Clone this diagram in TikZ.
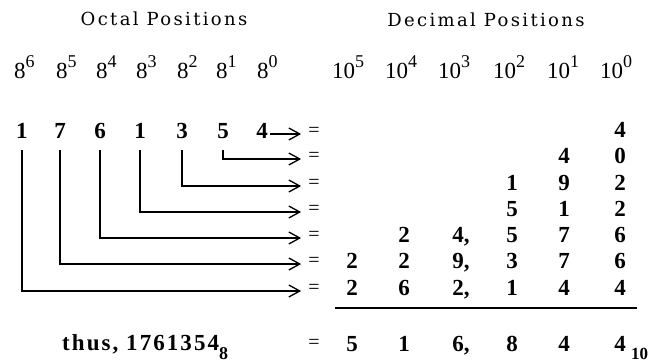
\documentclass[tikz,border=0pt]{standalone}
\usepackage{fontspec}
\setmainfont{Liberation Serif}
\newfontfamily\headfont[LetterSpace=13]{DejaVu Serif}
\newfontfamily\widefont[LetterSpace=9]{Liberation Serif}
\usepackage{tikz}
\usetikzlibrary{arrows.meta}

\newcommand{\pwr}[2]{#1\raisebox{11pt}{\fontsize{18}{18}\selectfont #2}}

\begin{document}
\begin{tikzpicture}[
    x=1pt, y=-1pt,
    every node/.style={inner sep=0pt, font=\fontsize{23}{23}\selectfont},
    heading/.style={font=\headfont\fontsize{18}{18}\selectfont, anchor=base},
    power/.style={anchor=base west},
    digit/.style={font=\fontsize{23}{23}\selectfont\bfseries, anchor=base},
    eqsign/.style={font=\fontsize{20}{20}\selectfont, text height=0.58em, text depth=0pt, inner sep=2pt},
    arrow/.style={-{Straight Barb[length=11pt,width=12pt]}, line width=1.3pt, shorten >=5pt},
    drop/.style={arrow, shorten <=12pt},
    sumline/.style={line width=1.3pt}
]
\useasboundingbox (0,0) rectangle (670,364);

% HEADINGS
\node[heading] (octhead) at (164, 25) {Octal Positions};
\node[heading] (dechead) at (486, 26) {Decimal Positions};

% POWERS
\node[power] (p6) at (14, 78)  {\pwr{8}{6}};
\node[power] (p5) at (56, 78)  {\pwr{8}{5}};
\node[power] (p4) at (96, 78)  {\pwr{8}{4}};
\node[power] (p3) at (136, 78) {\pwr{8}{3}};
\node[power] (p2) at (177, 78) {\pwr{8}{2}};
\node[power] (p1) at (216, 78) {\pwr{8}{1}};
\node[power] (p0) at (257, 78) {\pwr{8}{0}};

\node[power] (q5) at (332, 78) {\pwr{10}{5}};
\node[power] (q4) at (385, 78) {\pwr{10}{4}};
\node[power] (q3) at (438, 78) {\pwr{10}{3}};
\node[power] (q2) at (493, 78) {\pwr{10}{2}};
\node[power] (q1) at (547, 78) {\pwr{10}{1}};
\node[power] (q0) at (600, 78) {\pwr{10}{0}};

% OCTAL DIGITS
\node[digit] (o6) at (22, 138)  {1};
\node[digit] (o5) at (60, 138)  {7};
\node[digit] (o4) at (100, 138) {6};
\node[digit] (o3) at (140, 138) {1};
\node[digit] (o2) at (182, 138) {3};
\node[digit] (o1) at (223, 138) {5};
\node[digit] (o0) at (262, 138) {4};

% EQUALS SIGNS
\node[eqsign] (e0) at (314, 134) {=};
\node[eqsign] (e1) at (314, 159) {=};
\node[eqsign] (e2) at (314, 186) {=};
\node[eqsign] (e3) at (314, 212) {=};
\node[eqsign] (e4) at (314, 238) {=};
\node[eqsign] (e5) at (314, 264) {=};
\node[eqsign] (e6) at (314, 291) {=};
\node[eqsign] (eres) at (314, 346) {=};

% DECIMAL VALUES
\node[digit] (v0c0) at (620, 137) {4};

\node[digit] (v1c1) at (564, 163) {4};
\node[digit] (v1c0) at (620, 163) {0};

\node[digit] (v2c2) at (512, 190) {1};
\node[digit] (v2c1) at (564, 190) {9};
\node[digit] (v2c0) at (620, 190) {2};

\node[digit] (v3c2) at (512, 216) {5};
\node[digit] (v3c1) at (564, 216) {1};
\node[digit] (v3c0) at (620, 216) {2};

\node[digit] (v4c4) at (404, 242) {2};
\node[digit] (v4c3) at (458, 242) {4\rlap{,}};
\node[digit] (v4c2) at (512, 242) {5};
\node[digit] (v4c1) at (564, 242) {7};
\node[digit] (v4c0) at (620, 242) {6};

\node[digit] (v5c5) at (352, 268) {2};
\node[digit] (v5c4) at (404, 268) {2};
\node[digit] (v5c3) at (458, 268) {9\rlap{,}};
\node[digit] (v5c2) at (512, 268) {3};
\node[digit] (v5c1) at (564, 268) {7};
\node[digit] (v5c0) at (620, 268) {6};

\node[digit] (v6c5) at (352, 295) {2};
\node[digit] (v6c4) at (404, 295) {6};
\node[digit] (v6c3) at (458, 295) {2\rlap{,}};
\node[digit] (v6c2) at (512, 295) {1};
\node[digit] (v6c1) at (564, 295) {4};
\node[digit] (v6c0) at (620, 295) {4};

% RESULT
\coordinate (rule-l) at (335, 308);
\coordinate (rule-r) at (637, 308);
\draw[sumline] (rule-l) -- (rule-r);

\node[digit, anchor=base west, font=\widefont\fontsize{23}{23}\selectfont\bfseries] (thus) at (62, 350) {thus, 1761354\raisebox{-9pt}{\fontsize{18}{18}\selectfont 8}};
\node[digit] (s5) at (352, 351) {5};
\node[digit] (s4) at (404, 351) {1};
\node[digit] (s3) at (458, 351) {6\rlap{,}};
\node[digit] (s2) at (512, 351) {8};
\node[digit] (s4b) at (564, 351) {4};
\node[digit] (s0) at (620, 351) {4};
\node[digit, anchor=base west, font=\fontsize{17}{17}\selectfont\bfseries] (base10) at (631, 359) {10};

% ARROWS
\draw[arrow, shorten <=2pt] (o0.east |- e0) -- (e0);
\draw[drop] (o1) |- (e1);
\draw[drop] (o2) |- (e2);
\draw[drop] (o3) |- (e3);
\draw[drop] (o4) |- (e4);
\draw[drop] (o5) |- (e5);
\draw[drop] (o6) |- (e6);

\end{tikzpicture}
\end{document}
